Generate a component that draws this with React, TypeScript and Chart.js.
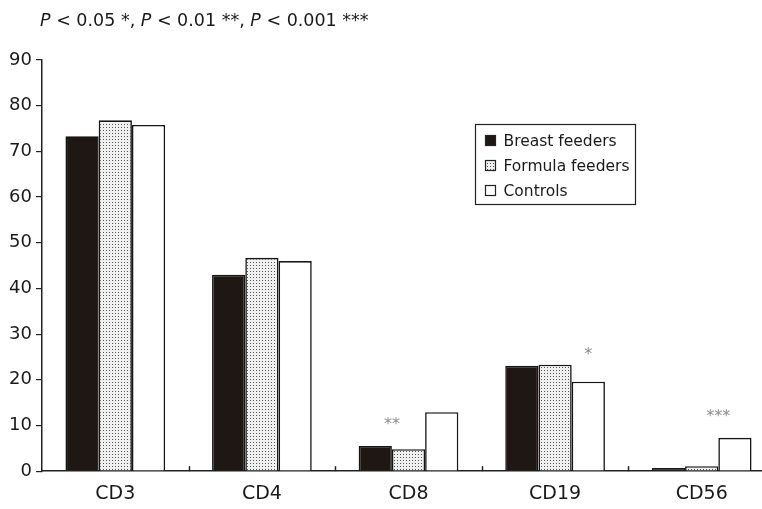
import React, { useEffect, useRef } from 'react';
import { Chart, registerables } from 'chart.js';

Chart.register(...registerables);

const categories = ['CD3', 'CD4', 'CD8', 'CD19', 'CD56'];
const seriesNames = ['Breast feeders', 'Formula feeders', 'Controls'];
const breastFeeders = [73.3, 43.0, 5.5, 23.1, 0.7];
const formulaFeeders = [76.8, 46.7, 4.8, 23.3, 1.1];
const controls = [75.8, 46.0, 12.9, 19.6, 7.3];
const yTickValues = [0, 10, 20, 30, 40, 50, 60, 70, 80, 90];
const significanceMarks = ['', '', '**', '*', '***'];
const significanceLevels = [0, 0, 10.7, 26.1, 12.5];
const significanceBarIndex = [0, 0, 0.5, 2, 1.5];

const FONT = '"DejaVu Sans", "Liberation Sans", Arial, sans-serif';

function makeDotPattern(): CanvasPattern | string {
  const c = document.createElement('canvas');
  c.width = 3;
  c.height = 3;
  const g = c.getContext('2d');
  if (!g) return '#ddd';
  g.fillStyle = '#f0f0f0';
  g.fillRect(0, 0, 3, 3);
  g.fillStyle = '#555555';
  g.fillRect(1, 1, 1, 1);
  const p = g.createPattern(c, 'repeat');
  return p || '#ddd';
}

export default function App() {
  const ref = useRef<HTMLCanvasElement | null>(null);

  useEffect(() => {
    if (!ref.current) return;
    const dots = makeDotPattern();
    const fills: (string | CanvasPattern)[] = ['#1f1714', dots, '#ffffff'];

    const decor = {
      id: 'decor',
      afterDraw(chart: any) {
        const { ctx, chartArea } = chart;
        const x = chart.scales.x;
        const y = chart.scales.y;
        ctx.save();
        // upward category separator ticks
        ctx.strokeStyle = '#222';
        ctx.lineWidth = 1.5;
        const n = categories.length;
        for (let i = 1; i <= n; i++) {
          const px = Math.round(x.left + (x.width / n) * i) + 0.5;
          ctx.beginPath();
          ctx.moveTo(px, y.bottom);
          ctx.lineTo(px, y.bottom - 5);
          ctx.stroke();
        }
        // significance marks
        ctx.fillStyle = '#8c8c8c';
        ctx.font = `16px ${FONT}`;
        ctx.textAlign = 'center';
        ctx.textBaseline = 'middle';
        significanceMarks.forEach((mark, j) => {
          if (!mark) return;
          const bi = significanceBarIndex[j];
          const lo = Math.floor(bi);
          const hi = Math.ceil(bi);
          const a = chart.getDatasetMeta(lo).data[j];
          const b = chart.getDatasetMeta(hi).data[j];
          const px = a.x + (b.x - a.x) * (bi - lo);
          ctx.fillText(mark, px, y.getPixelForValue(significanceLevels[j]) + 3);
        });
        // legend box
        const lx = chartArea.left + 433.5;
        const ly = chartArea.top + 64.5;
        ctx.strokeStyle = '#222';
        ctx.lineWidth = 1.2;
        ctx.strokeRect(lx, ly, 160, 80);
        ctx.font = `15.5px ${FONT}`;
        ctx.textAlign = 'left';
        ctx.textBaseline = 'middle';
        seriesNames.forEach((name, i) => {
          const cy = ly + 16 + i * 25;
          ctx.fillStyle = fills[i];
          ctx.fillRect(lx + 10, cy - 5, 10, 10);
          ctx.strokeStyle = '#222';
          ctx.lineWidth = 1.2;
          ctx.strokeRect(lx + 10, cy - 5, 10, 10);
          ctx.fillStyle = '#1a1a1a';
          ctx.fillText(name, lx + 28, cy + 1);
        });
        ctx.restore();
      },
    };

    const chart = new Chart(ref.current, {
      type: 'bar',
      data: {
        labels: categories,
        datasets: [breastFeeders, formulaFeeders, controls].map((d, i) => ({
          label: seriesNames[i],
          data: d,
          backgroundColor: fills[i] as any,
          borderColor: '#151515',
          borderWidth: 1.6,
          categoryPercentage: 0.68,
          barPercentage: 1.0,
        })),
      },
      options: {
        responsive: false,
        animation: false,
        devicePixelRatio: 1,
        layout: { padding: { top: 60, right: 0, bottom: -7, left: 0 } },
        plugins: {
          legend: { display: false },
          tooltip: { enabled: false },
          title: { display: false },
        },
        scales: {
          x: {
            grid: { display: false, drawTicks: false, tickLength: 0 },
            border: { display: true, color: '#222', width: 1.5 },
            ticks: { font: { family: FONT, size: 19 }, color: '#1a1a1a', padding: 11 },
          },
          y: {
            min: 0,
            max: 90,
            afterFit: (s: any) => {
              s.width = 42;
            },
            afterBuildTicks: (s: any) => {
              s.ticks = yTickValues.map((v) => ({ value: v }));
            },
            grid: { drawOnChartArea: false, drawTicks: true, tickLength: 6, color: '#222', lineWidth: 1.2 },
            border: { display: true, color: '#222', width: 1.5 },
            ticks: { font: { family: FONT, size: 18 }, color: '#1a1a1a', padding: 4 },
          },
        },
      },
      plugins: [decor],
    });
    return () => chart.destroy();
  }, []);

  return (
    <div
      style={{
        position: 'fixed',
        left: 0,
        top: 0,
        width: 762,
        height: 509,
        overflow: 'hidden',
        background: '#fff',
      }}
    >
      <canvas ref={ref} width={775} height={509} style={{ position: 'absolute', left: 0, top: 0 }} />
      <div
        style={{
          position: 'absolute',
          left: 40,
          top: 10,
          fontFamily: FONT,
          fontSize: 17.5,
          lineHeight: '20px',
          color: '#1a1a1a',
          whiteSpace: 'nowrap',
        }}
      >
        <i>P</i> &lt; 0.05 *, <i>P</i> &lt; 0.01 **, <i>P</i> &lt; 0.001 ***
      </div>
    </div>
  );
}
